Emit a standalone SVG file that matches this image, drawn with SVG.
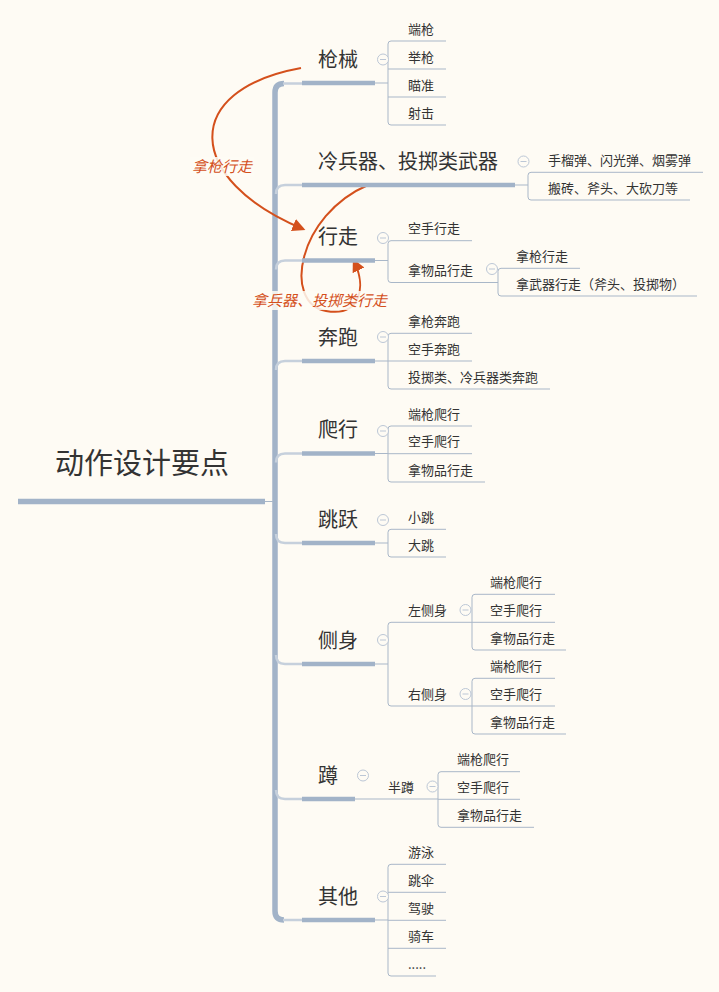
<svg xmlns="http://www.w3.org/2000/svg" width="719" height="992" viewBox="0 0 719 992">
<style>
text{font-family:"Noto Sans CJK SC","Noto Sans",sans-serif;fill:#333}
.root{font-size:29px}
.main{font-size:20px}
.sub{font-size:13px}
.rel{font-size:15px;font-style:italic;fill:#d4501c}
.bar{stroke:#a2b3c8;stroke-width:4.5;fill:none}
.trunk{stroke:#a2b3c8;stroke-width:5.5;fill:none}
.stub{stroke:#c6d0dc;stroke-width:2.5;fill:none}
.ln{stroke:#a9b7c8;stroke-width:1;fill:none}
.col{fill:#fefbf4;stroke:#bcc7d6;stroke-width:1}
.colm{stroke:#bcc7d6;stroke-width:1}
.relp{stroke:#d4501c;stroke-width:2;fill:none}
.lbg{fill:#fefbf4;opacity:0.85}
</style>
<defs>
<marker id="arr" viewBox="0 0 10 10" refX="8" refY="5" markerWidth="13" markerHeight="13" markerUnits="userSpaceOnUse" orient="auto"><path d="M0,0 L10,5 L0,10 z" fill="#d4501c"/></marker>
<g id="collapse"><circle r="5.5" class="col"/><line x1="-3" y1="0" x2="3" y2="0" class="colm"/></g>
</defs>
<rect width="719" height="992" fill="#fefbf4"/>

<g id="connectors">
<path class="trunk" d="M284,83.5 Q275,83.5 275,92.5 V911 Q275,920 284,920"/>
<path class="stub" d="M283,83.5 H302 M283,920 H302"/>
<path class="stub" d="M276,194 Q276,185 285,185 H302"/>
<path class="stub" d="M276,269.5 Q276,260.5 285,260.5 H302"/>
<path class="stub" d="M276,370 Q276,361 285,361 H302"/>
<path class="stub" d="M276,462.5 Q276,453.5 285,453.5 H302"/>
<path class="stub" d="M276,534 Q276,543 285,543 H302"/>
<path class="stub" d="M276,655 Q276,664 285,664 H302"/>
<path class="stub" d="M276,790 Q276,799 285,799 H302"/>
<path class="ln" d="M265,501.5 H273"/>
<path class="ln" d="M375,83 H388 M446,41 H391 Q388,41 388,44 V122 Q388,125 391,125 H446 M388,69 H446 M388,97 H446"/>
<path class="ln" d="M515,185 H528 M703,172.3 H531 Q528,172.3 528,175.3 V197 Q528,200 531,200 H690"/>
<path class="ln" d="M375,260.5 H388 M472,240.7 H391 Q388,240.7 388,243.7 V279.5 Q388,282.5 391,282.5 H498"/>
<path class="ln" d="M580,268.3 H501 Q498,268.3 498,271.3 V293 Q498,296 501,296 H697"/>
<path class="ln" d="M375,361 H388 M472,333.3 H391 Q388,333.3 388,336.3 V386 Q388,389 391,389 H550 M388,361 H472"/>
<path class="ln" d="M375,453.5 H388 M472,426 H391 Q388,426 388,429 V479 Q388,482 391,482 H485 M388,453.7 H472"/>
<path class="ln" d="M375,543 H388 M446,529.3 H391 Q388,529.3 388,532.3 V554 Q388,557 391,557 H446"/>
<path class="ln" d="M375,664 H388 M472,622.3 H391 Q388,622.3 388,625.3 V703 Q388,706 391,706 H472"/>
<path class="ln" d="M555,594.3 H475 Q472,594.3 472,597.3 V647 Q472,650 475,650 H566 M472,622.3 H555"/>
<path class="ln" d="M555,678.3 H475 Q472,678.3 472,681.3 V731 Q472,734 475,734 H566 M472,706 H555"/>
<path class="ln" d="M355,799 H438"/>
<path class="ln" d="M520,771.7 H441 Q438,771.7 438,774.7 V824.3 Q438,827.3 441,827.3 H534 M438,799.3 H520"/>
<path class="ln" d="M375,920 H388 M446,864.3 H391 Q388,864.3 388,867.3 V973 Q388,976 391,976 H436 M388,892.3 H446 M388,920.3 H446 M388,948.3 H446"/>
<path class="relp" d="M301,68 C180,90 185,180 303,229" marker-end="url(#arr)"/>
<path class="relp" d="M368,185 C298,215 282,303 326,311 C360,317 367,288 354,261" marker-end="url(#arr)"/>
<rect class="lbg" x="190" y="157" width="64" height="19"/>
<text class="rel" x="192" y="171.5">拿枪行走</text>
<rect class="lbg" x="250" y="291" width="139" height="19"/>
<text class="rel" x="252" y="305.5">拿兵器、投掷类行走</text>
</g>

<g id="root">
<path class="trunk" d="M18,501.5 H265"/>
<text class="root" x="55" y="474">动作设计要点</text>
</g>

<g id="n-qiangxie">
<path class="bar" d="M302,83 H375"/>
<text class="main" x="318" y="66.5">枪械</text>
<use href="#collapse" x="383" y="59.5"/>
<text class="sub" x="408" y="33.5">端枪</text>
<text class="sub" x="408" y="61.5">举枪</text>
<text class="sub" x="408" y="89.5">瞄准</text>
<text class="sub" x="408" y="117.5">射击</text>
</g>

<g id="n-lengbingqi">
<path class="bar" d="M302,185 H515"/>
<text class="main" x="318" y="168.5">冷兵器、投掷类武器</text>
<use href="#collapse" x="523.5" y="161.5"/>
<text class="sub" x="548" y="164.8">手榴弹、闪光弹、烟雾弹</text>
<text class="sub" x="548" y="192.5">搬砖、斧头、大砍刀等</text>
</g>

<g id="n-xingzou">
<path class="bar" d="M302,260.5 H375"/>
<text class="main" x="318" y="244">行走</text>
<use href="#collapse" x="383" y="238"/>
<text class="sub" x="408" y="233.2">空手行走</text>
<text class="sub" x="408" y="275">拿物品行走</text>
<use href="#collapse" x="492" y="269"/>
<text class="sub" x="516" y="260.8">拿枪行走</text>
<text class="sub" x="516" y="288.5">拿武器行走（斧头、投掷物）</text>
</g>

<g id="n-benpao">
<path class="bar" d="M302,361 H375"/>
<text class="main" x="318" y="344.5">奔跑</text>
<use href="#collapse" x="383" y="337"/>
<text class="sub" x="408" y="325.8">拿枪奔跑</text>
<text class="sub" x="408" y="353.5">空手奔跑</text>
<text class="sub" x="408" y="381.5">投掷类、冷兵器类奔跑</text>
</g>

<g id="n-paxing">
<path class="bar" d="M302,453.5 H375"/>
<text class="main" x="318" y="437">爬行</text>
<use href="#collapse" x="383" y="431"/>
<text class="sub" x="408" y="418.5">端枪爬行</text>
<text class="sub" x="408" y="446.2">空手爬行</text>
<text class="sub" x="408" y="474.5">拿物品行走</text>
</g>

<g id="n-tiaoyue">
<path class="bar" d="M302,543 H375"/>
<text class="main" x="318" y="526.5">跳跃</text>
<use href="#collapse" x="383" y="520"/>
<text class="sub" x="408" y="521.8">小跳</text>
<text class="sub" x="408" y="549.5">大跳</text>
</g>

<g id="n-ceshen">
<path class="bar" d="M302,664 H375"/>
<text class="main" x="318" y="647.5">侧身</text>
<use href="#collapse" x="383" y="640"/>
<text class="sub" x="408" y="614.8">左侧身</text>
<use href="#collapse" x="465.5" y="610"/>
<text class="sub" x="490" y="586.8">端枪爬行</text>
<text class="sub" x="490" y="614.8">空手爬行</text>
<text class="sub" x="490" y="642.5">拿物品行走</text>
<text class="sub" x="408" y="698.5">右侧身</text>
<use href="#collapse" x="465.5" y="694"/>
<text class="sub" x="490" y="670.8">端枪爬行</text>
<text class="sub" x="490" y="698.5">空手爬行</text>
<text class="sub" x="490" y="726.5">拿物品行走</text>
</g>

<g id="n-dun">
<path class="bar" d="M302,799 H355"/>
<text class="main" x="318" y="782.5">蹲</text>
<use href="#collapse" x="363" y="775.5"/>
<text class="sub" x="388" y="791.5">半蹲</text>
<use href="#collapse" x="432.5" y="786.5"/>
<text class="sub" x="457" y="764.2">端枪爬行</text>
<text class="sub" x="457" y="791.8">空手爬行</text>
<text class="sub" x="457" y="819.8">拿物品行走</text>
</g>

<g id="n-qita">
<path class="bar" d="M302,920 H375"/>
<text class="main" x="318" y="903.5">其他</text>
<use href="#collapse" x="383" y="896.5"/>
<text class="sub" x="408" y="856.8">游泳</text>
<text class="sub" x="408" y="884.8">跳伞</text>
<text class="sub" x="408" y="912.8">驾驶</text>
<text class="sub" x="408" y="940.8">骑车</text>
<text class="sub" x="408" y="968.5">.....</text>
</g>
</svg>
